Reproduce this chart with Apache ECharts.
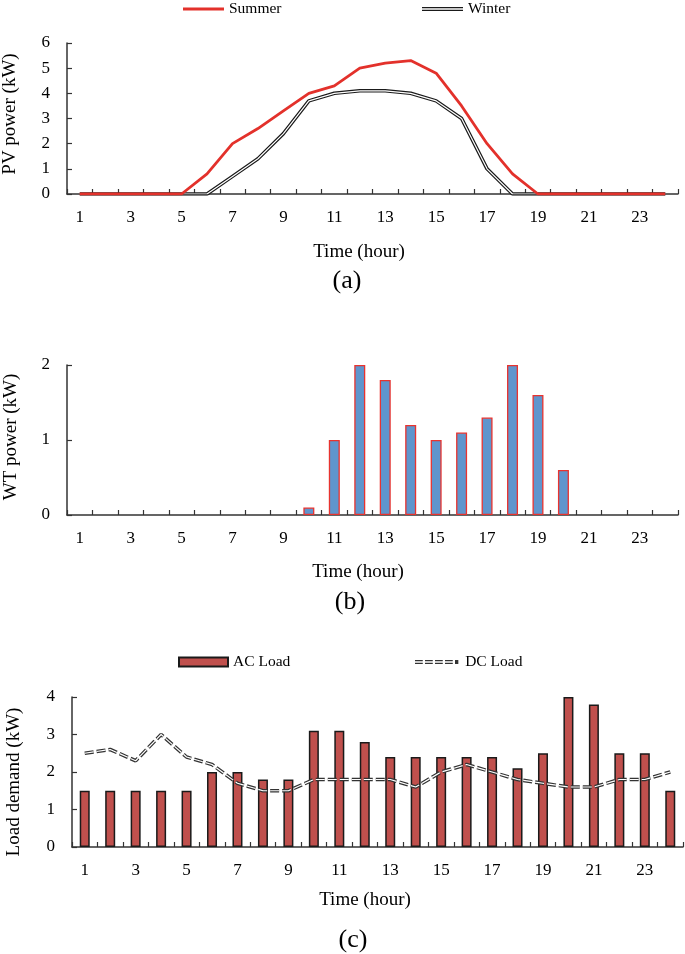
<!DOCTYPE html>
<html>
<head>
<meta charset="utf-8">
<script src="https://cdn.jsdelivr.net/npm/echarts@6/dist/echarts.min.js"></script>
<style>
html,body{margin:0;padding:0;background:#fff;}
#chart{width:685px;height:954px;}
</style>
</head>
<body>
<div id="chart"></div>
<script>
const hours = ['1','2','3','4','5','6','7','8','9','10','11','12','13','14','15','16','17','18','19','20','21','22','23','24'];
const summerPV = [0,0,0,0,0,0.8,2.0,2.6,3.3,4.0,4.3,5.0,5.2,5.3,4.8,3.5,2.0,0.8,0,0,0,0,0,0];
const winterPV = [0,0,0,0,0,0,0.7,1.4,2.4,3.7,4.0,4.1,4.1,4.0,3.7,3.0,1.0,0,0,0,0,0,0,0];
const windPower = [0,0,0,0,0,0,0,0,0,0.1,1.0,2.0,1.8,1.2,1.0,1.1,1.3,2.0,1.6,0.6,0,0,0,0];
const acLoad = [1.5,1.5,1.5,1.5,1.5,2.0,2.0,1.8,1.8,3.1,3.1,2.8,2.4,2.4,2.4,2.4,2.4,2.1,2.5,4.0,3.8,2.5,2.5,1.5];
const dcLoad = [2.5,2.6,2.3,3.0,2.4,2.2,1.7,1.5,1.5,1.8,1.8,1.8,1.8,1.6,2.0,2.2,2.0,1.8,1.7,1.6,1.6,1.8,1.8,2.0];

const FONT = "'Liberation Serif','Times New Roman',serif";
const chart = echarts.init(document.getElementById('chart'), null, {renderer:'canvas'});

function xAxisCfg(gi){
  return {
    type:'category', gridIndex:gi, data:hours, boundaryGap:true,
    axisLine:{show:true, lineStyle:{color:'#333', width:1.5}},
    axisTick:{show:true, inside:true, length:5, interval:0, alignWithLabel:false, lineStyle:{color:'#333', width:1.2}},
    axisLabel:{interval:1, margin:15, color:'#000', fontFamily:FONT, fontSize:17},
    splitLine:{show:false}
  };
}
function yAxisCfg(gi, max){
  return {
    type:'value', gridIndex:gi, min:0, max:max, interval:1,
    axisLine:{show:true, lineStyle:{color:'#333', width:1.5}},
    axisTick:{show:true, inside:true, length:5, lineStyle:{color:'#333', width:1.2}},
    axisLabel:{margin:17, color:'#000', fontFamily:FONT, fontSize:17},
    splitLine:{show:false}
  };
}
function gtext(x, y, text, size, rot){
  return {type:'text', x:x, y:y, rotation:rot||0,
    style:{text:text, fill:'#000', font: size+'px '+FONT,
      textAlign:'center', textVerticalAlign:'middle', align:'center', verticalAlign:'middle'}};
}
const legText = {color:'#000', fontFamily:FONT, fontSize:15.5};

const dblPath = 'path://M0,0H40V1.2H0Z M0,2.6H40V3.8H0Z';
const dashDbl = 'path://M0,0H7V1.2H0Z M0,2.4H7V3.6H0Z M9,0H16V1.2H9Z M9,2.4H16V3.6H9Z M18,0H25V1.2H18Z M18,2.4H25V3.6H18Z M27,0H34V1.2H27Z M27,2.4H34V3.6H27Z M36,0H39V3.6H36Z';

const option = {
  animation:false,
  backgroundColor:'#fff',
  grid:[
    {left:67, right:7, top:43, height:151},
    {left:67, right:7, top:365, height:150},
    {left:72, right:2, top:697, height:150}
  ],
  legend:[
    {data:['Summer'], left:183, top:1, padding:0, icon:'rect', itemWidth:41, itemHeight:3, itemGap:0, textStyle:legText},
    {data:['Winter'], left:422, top:1, padding:0, icon:dblPath, itemWidth:41, itemHeight:4, itemGap:0, textStyle:legText},
    {data:['AC Load'], left:178, top:654, padding:0, icon:'rect', itemWidth:49, itemHeight:9, itemGap:0, textStyle:legText},
    {data:['DC Load'], left:415, top:654, padding:0, icon:dashDbl, itemWidth:47, itemHeight:4, itemGap:0, textStyle:legText}
  ],
  xAxis:[xAxisCfg(0), xAxisCfg(1), xAxisCfg(2)],
  yAxis:[yAxisCfg(0,6), yAxisCfg(1,2), yAxisCfg(2,4)],
  series:[
    {name:'Winter', type:'line', xAxisIndex:0, yAxisIndex:0, data:winterPV, showSymbol:false, symbol:'none',
      itemStyle:{color:'#1a1a1a'}, lineStyle:{color:'#1a1a1a', width:3.6}, z:2},
    {name:'winter-inner', type:'line', xAxisIndex:0, yAxisIndex:0, data:winterPV, showSymbol:false, symbol:'none',
      lineStyle:{color:'#fff', width:1.2}, z:3, silent:true},
    {name:'Summer', type:'line', xAxisIndex:0, yAxisIndex:0, data:summerPV, showSymbol:false, symbol:'none',
      itemStyle:{color:'#e3312b'}, lineStyle:{color:'#e3312b', width:2.8}, z:4},
    {name:'WT', type:'bar', xAxisIndex:1, yAxisIndex:1, data:windPower.map(v => v === 0 ? null : v), barWidth:11,
      itemStyle:{color:'#5f95cd', borderColor:'#e8332f', borderWidth:1.3}},
    {name:'AC Load', type:'bar', xAxisIndex:2, yAxisIndex:2, data:acLoad, barWidth:10,
      itemStyle:{color:'#c0504d', borderColor:'#1a1a1a', borderWidth:1.5}, z:2},
    {name:'DC Load', type:'line', xAxisIndex:2, yAxisIndex:2, data:dcLoad, showSymbol:false, symbol:'none',
      itemStyle:{color:'#333'}, lineStyle:{color:'#333', width:3.6, type:[9,3]}, z:3},
    {name:'dc-inner', type:'line', xAxisIndex:2, yAxisIndex:2, data:dcLoad, showSymbol:false, symbol:'none',
      lineStyle:{color:'#fff', width:1.2, type:[9,3]}, z:4, silent:true}
  ],
  graphic:[
    gtext(10, 114, 'PV power (kW)', 19, Math.PI/2),
    gtext(359, 252, 'Time (hour)', 19),
    gtext(347, 281, '(a)', 26),
    gtext(11, 437, 'WT power (kW)', 19, Math.PI/2),
    gtext(358, 572, 'Time (hour)', 19),
    gtext(350, 602, '(b)', 26),
    gtext(14, 782, 'Load demand (kW)', 19, Math.PI/2),
    gtext(365, 900, 'Time (hour)', 19),
    gtext(353, 940, '(c)', 26)
  ]
};
chart.setOption(option);
</script>
</body>
</html>
